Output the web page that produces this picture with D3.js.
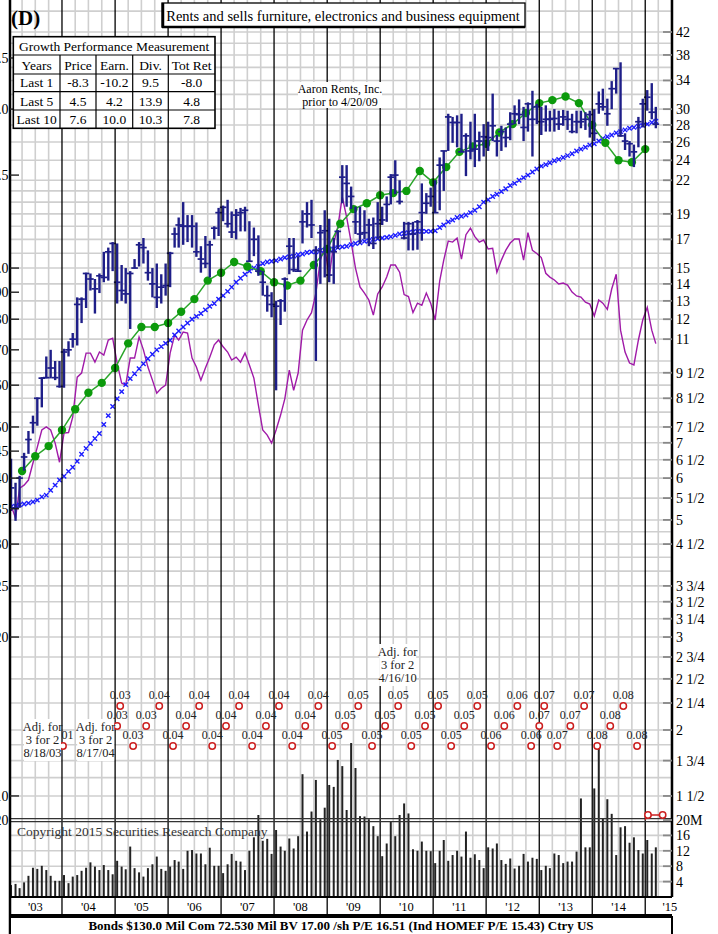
<!DOCTYPE html>
<html><head><meta charset="utf-8">
<script src="https://cdn.jsdelivr.net/npm/d3@7/dist/d3.min.js"></script>
<style>body{margin:0;background:#fff}svg{display:block}</style>
</head><body>
<svg id="c" width="718" height="934"></svg>
<script>
// ---------------- DATA ----------------
const firstMonth = "2003-01", lastMonth = "2015-03";
const high = [6.53,5.88,6.06,6.70,7.37,7.88,8.53,9.32,10.2,10.5,10.0,10.0,
10.55,10.9,11.3,13.2,13.2,14.7,14.65,14.3,14.65,16.1,16.4,16.8,
16.7,15.2,15.0,14.8,15.6,16.8,17.1,16.2,15.0,15.3,14.6,15.3,
16.1,17.9,18.7,20.0,18.9,18.9,18.3,16.5,17.25,16.9,18.0,19.5,
19.7,20.2,19.2,19.4,19.5,19.6,18.4,17.9,17.3,14.8,13.9,13.5,
13.0,13.1,14.4,17.1,17.1,15.8,19.3,20.0,20.2,16.5,18.1,19.3,
18.6,17.1,17.7,23.5,23.5,21.4,19.6,19.6,19.3,18.6,18.7,20.0,
19.6,20.5,22.6,24.0,22.0,18.35,18.35,18.35,18.5,21.7,20.8,21.3,
22.0,24.3,25.0,29.4,29.0,29.2,29.4,27.0,28.4,29.4,27.2,28.1,
28.4,32.1,26.8,27.9,27.7,29.6,30.5,31.3,30.3,30.9,32.5,30.7,
30.3,30.5,29.8,30.0,29.8,29.9,29.8,29.4,29.8,29.8,29.6,29.8,
30.0,32.4,32.8,31.4,33.9,35.9,36.8,27.0,26.1,25.7,29.0,31.4,
32.6,33.6,30.3];
const low = [5.20,4.98,5.27,6.20,6.67,7.29,7.54,8.17,9.27,9.27,9.2,8.9,
8.9,10.2,10.6,10.7,11.8,12.6,13.6,12.3,13.45,14.1,14.2,14.8,
12.85,13.0,12.85,11.5,15.0,15.1,15.3,14.2,13.2,12.6,12.85,13.3,
13.8,16.4,16.4,16.6,16.8,16.4,15.75,14.7,15.0,14.4,17.0,17.25,
18.4,17.9,17.1,17.0,17.6,17.6,15.4,15.8,14.5,13.3,12.4,12.1,
8.8,11.7,12.4,14.6,14.75,14.8,16.7,17.9,17.1,10.0,14.0,14.4,
14.1,14.0,16.3,19.9,19.6,19.4,17.4,16.7,17.0,16.5,16.3,17.0,
18.1,18.35,19.8,20.7,19.8,17.0,16.2,16.2,16.25,16.9,19.0,19.6,
19.1,19.3,21.0,25.0,25.9,25.4,24.9,22.4,24.1,23.3,23.9,24.4,
25.0,26.1,24.4,25.0,25.4,26.2,28.1,28.1,26.1,27.2,24.4,28.1,
26.8,27.2,27.2,27.2,27.4,27.9,27.4,27.0,27.0,27.6,27.4,26.5,
26.1,29.4,29.8,27.9,30.0,32.1,26.6,25.1,24.4,23.3,25.4,27.7,
29.8,28.7,27.6];
const close = [5.75,5.27,6.0,6.58,7.10,7.64,8.50,9.28,9.3,9.7,9.3,8.95,
10.4,10.5,11.0,12.8,13.1,14.65,14.3,13.7,14.5,14.4,16.1,16.7,
14.1,13.6,13.4,14.65,15.0,16.6,16.4,14.7,14.0,13.2,13.8,13.9,
16.0,17.4,18.1,18.0,18.0,18.0,16.1,15.6,15.3,16.6,17.85,19.1,
19.55,18.2,17.55,18.9,19.1,19.3,15.45,17.0,14.8,14.1,13.3,12.8,
12.7,13.0,14.3,16.5,14.9,14.8,18.35,19.0,18.1,16.2,17.5,17.65,
14.55,16.1,17.6,22.3,21.7,20.5,18.35,17.4,17.5,18.1,16.7,18.2,
18.5,19.8,22.3,22.5,20.05,17.1,18.2,17.4,18.35,19.1,19.9,20.5,
19.1,23.5,25.0,29.0,28.3,28.3,24.9,26.7,25.0,25.2,26.1,26.6,
26.5,27.9,26.1,27.2,26.5,28.1,29.4,29.3,27.7,30.7,28.7,30.3,
28.4,28.7,28.7,28.8,28.1,29.0,28.7,27.2,28.4,28.4,28.7,29.3,
27.0,30.7,30.3,29.4,32.8,35.8,26.7,26.1,25.8,24.9,28.4,30.7,
31.6,29.6,28.1];
const movingAvg = [5.29,5.31,5.34,5.36,5.38,5.41,5.45,5.53,5.57,5.69,5.82,5.95,
6.05,6.18,6.29,6.46,6.66,6.83,6.98,7.13,7.29,7.58,7.88,8.20,
8.48,8.75,9.02,9.26,9.46,9.67,9.88,10.1,10.3,10.5,10.65,10.8,
10.95,11.2,11.4,11.6,11.8,12.0,12.15,12.3,12.5,12.7,12.85,13.1,
13.3,13.55,13.8,14.1,14.35,14.6,14.8,15.0,15.1,15.3,15.4,15.45,
15.5,15.6,15.7,15.75,15.8,15.9,15.95,16.05,16.1,16.1,16.2,16.2,
16.25,16.3,16.4,16.45,16.5,16.6,16.7,16.75,16.85,16.9,17.0,17.05,
17.1,17.15,17.2,17.3,17.4,17.45,17.5,17.55,17.6,17.6,17.6,17.6,
17.65,17.9,18.1,18.35,18.5,18.7,18.8,18.9,19.1,19.3,19.6,20.0,
20.2,20.5,20.7,20.95,21.2,21.5,21.7,22.0,22.25,22.5,22.8,23.1,
23.4,23.55,23.75,23.95,24.1,24.3,24.5,24.7,25.0,25.2,25.4,25.65,
25.8,26.1,26.4,26.6,26.8,27.05,27.2,27.4,27.6,27.7,27.85,27.95,
28.1,28.3,28.45];
const relStrength = [5.33,5.04,5.74,5.82,5.95,6.41,6.87,7.40,7.50,7.40,6.99,6.43,
7.30,7.32,7.83,9.32,9.49,10.35,10.35,9.95,10.4,10.26,10.96,11.05,
9.91,9.08,9.0,10.13,10.13,11.1,10.5,9.74,9.2,8.69,8.88,9.0,
10.35,11.2,10.96,11.35,11.3,10.13,9.74,9.2,9.70,10.17,10.73,10.96,
10.64,10.4,10.04,10.17,9.95,10.35,9.83,9.28,8.25,7.40,7.24,6.99,
7.40,7.90,8.48,9.61,8.80,9.49,11.44,11.96,12.35,13.45,15.53,16.44,
14.42,16.73,17.94,20.45,18.74,16.8,15.0,13.81,13.45,13.05,12.22,13.4,
13.81,14.42,15.2,15.2,14.73,13.36,13.25,12.35,12.87,12.75,13.45,12.87,
11.96,14.17,15.53,16.88,16.8,17.1,15.6,17.35,17.86,17.2,16.8,16.95,
16.3,16.35,14.73,15.53,16.2,16.73,17.03,17.03,15.53,17.5,16.2,15.98,
15.7,14.66,14.42,14.24,13.99,14.05,13.93,13.51,13.28,13.22,12.93,12.82,
12.17,13.05,12.87,12.53,13.69,14.6,11.44,10.4,9.91,9.83,10.96,11.96,
12.64,11.44,10.79];
const volumeM = [3.1,3.4,2.3,3.8,5.5,7.6,7.3,8.1,7.0,5.5,4.2,4.2,
5.7,3.6,5.3,5.7,6.8,7.6,9.0,7.9,7.0,8.3,7.0,5.9,
9.4,7.9,7.2,13.1,7.5,6.4,5.3,7.5,8.5,10.5,7.3,6.8,
7.9,9.6,9.2,7.3,12.0,12.2,11.3,11.3,8.5,12.8,8.1,8.1,
6.2,8.5,11.2,9.4,9.2,7.0,12.0,15.5,21.3,14.6,15.1,11.2,
17.4,13.1,12.0,15.2,12.6,15.8,31.9,17.0,22.2,30.4,20.2,23.2,
29.1,28.6,35.6,34.0,22.6,40.0,33.5,21.0,20.9,20.2,18.4,15.8,
10.6,13.9,19.6,15.8,21.3,24.3,21.7,12.4,12.0,14.4,12.0,11.9,
8.8,12.0,14.8,9.4,10.9,12.0,10.5,17.0,10.2,11.1,9.6,7.5,
12.9,12.6,13.9,9.6,8.6,10.0,7.4,8.1,11.2,9.2,10.2,9.9,
7.0,8.1,7.5,11.3,10.9,8.8,9.2,9.2,11.8,25.6,12.9,12.9,
28.2,39.2,20.4,25.4,21.6,10.9,18.1,18.4,14.1,15.5,12.2,11.3,
14.8,11.3,12.9];
// earnings line (price-scale equivalent, quarterly, Q1 2003 .. Q4 2014)
const earningsLine = [6.19,6.60,6.90,7.40,8.10,8.71,9.09,9.70,10.8,11.6,11.6,11.8,
12.4,13.1,14.2,14.7,15.4,15.1,14.8,14.1,13.9,14.2,15.2,16.3,
18.2,19.4,19.9,20.6,20.8,21.0,22.9,21.8,23.3,24.9,25.5,25.8,
27.1,28.1,29.5,30.8,31.2,31.7,30.8,28.0,25.9,24.0,23.8,25.2];
const divDates = ["2004-01-08","2005-01-15","2005-02-05","2005-05-05","2005-08-03","2005-11-01",
"2006-02-04","2006-05-05","2006-08-03","2006-11-01","2007-02-04","2007-05-05","2007-08-03","2007-11-06",
"2008-02-04","2008-05-05","2008-08-03","2008-11-01","2009-02-04","2009-05-05","2009-08-03","2009-11-06",
"2010-02-04","2010-05-05","2010-08-03","2010-11-06","2011-02-04","2011-05-05","2011-08-03","2011-11-01",
"2012-02-04","2012-05-05","2012-08-03","2012-11-06","2013-01-01","2013-02-04","2013-05-05","2013-08-03",
"2013-11-06","2014-02-04","2014-05-05","2014-08-03","2014-11-06"];
const divAmounts = [0.01,0.03,0.03,0.03,0.03,0.04,0.04,0.04,0.04,0.04,0.04,0.04,0.04,0.04,
0.04,0.04,0.04,0.04,0.05,0.05,0.05,0.05,0.05,0.05,0.05,0.05,0.05,0.05,0.05,0.05,
0.06,0.06,0.06,0.06,0.07,0.07,0.07,0.07,0.07,0.08,0.08,0.08,0.08];
const divTier = [3,2,1,3,2,1,3,2,1,3,2,1,3,2,1,3,2,1,3,2,1,3,2,1,3,2,1,3,2,1,3,2,1,3,2,1,3,2,1,3,2,1,3];
const lastDivDates = ["2015-01-20","2015-05-01"];
const splitNotes = [{date:"2003-08-20",lines:["Adj. for","3 for 2","8/18/03"],row:"low"},
                    {date:"2004-08-20",lines:["Adj. for","3 for 2","8/17/04"],row:"low"},
                    {date:"2010-05-01",lines:["Adj. for","3 for 2","4/16/10"],row:"high"}];
const yearLabels = ["'03","'04","'05","'06","'07","'08","'09","'10","'11","'12","'13","'14","'15"];
const priceTicks = [42,38,34,30,28,26,24,22,19,17,15,14,13,12,11,9.5,8.5,7.5,7,6.5,6,5.5,5,4.5,3.75,3.5,3.25,3,2.75,2.5,2.25,2,1.75,1.5];
const priceTickLabels = ["42","38","34","30","28","26","24","22","19","17","15","14","13","12","11","9 1/2","8 1/2","7 1/2","7","6 1/2","6","5 1/2","5","4 1/2","3 3/4","3 1/2","3 1/4","3","2 3/4","2 1/2","2 1/4","2","1 3/4","1 1/2"];
const priceGrid = [46,42,40,38,36,34,32,30,28,26,24,22,21,20,19,18,17,16,15,14,13,12,11,10,9.5,9,8.5,8,7.5,7,6.5,6,5.5,5,4.75,4.5,4.25,4,3.75,3.5,3.25,3,2.75,2.5,2.25,2,1.875,1.75,1.625,1.5];
const earnTicks = [37.5,30,22.5,15,13.5,12,10.5,9,7.5,6.75,6,5.25,4.5,3.75,3,1.5];
const earnTickLabels = ["2.5","2.0","1.5","1.0",".90",".80",".70",".60",".50",".45",".40",".35",".30",".25",".20",".10"];
const volTicks = [20,16,12,8,4];
const volTickLabels = ["20M","16","12","8","4"];
const growthHeader = ["Years","Price","Earn.","Div.","Tot Ret"];
const growthRows = [["Last 1","-8.3","-10.2","9.5","-8.0"],["Last 5","4.5","4.2","13.9","4.8"],["Last 10","7.6","10.0","10.3","7.8"]];

// ---------------- SCALES ----------------
const svg = d3.select("#c");
const FONT = "'Liberation Serif','Times New Roman',serif";
const L = 10, R = 672, VB = 897;
const x = d3.scaleTime().domain([new Date(2003,0,1), new Date(2015,6,1)]).range([9, 671.5]);
const y = d3.scaleLog().domain([42,2]).range([32,730]);
const yv = d3.scaleLinear().domain([0,20]).range([VB,820]);
const parse = d3.timeParse("%Y-%m-%d");
const pm = d3.timeParse("%Y-%m");
const months = d3.timeMonth.range(pm(firstMonth), d3.timeMonth.offset(pm(lastMonth),1)).map(d=>d3.timeDay.offset(d,14));
const quarters = d3.timeMonth.every(3).range(new Date(2003,3,1), new Date(2015,0,2));

svg.append("rect").attr("width",718).attr("height",934).attr("fill","#fff");
svg.append("defs").append("clipPath").attr("id","plot").append("rect").attr("x",L).attr("y",0).attr("width",R-L).attr("height",VB);
const g = svg.append("g").attr("clip-path","url(#plot)");

// grid
g.selectAll(".hg").data(priceGrid).join("line").attr("x1",L).attr("x2",R)
 .attr("y1",d=>y(d)).attr("y2",d=>y(d)).attr("stroke","#cfcfcf").attr("stroke-width",1.6);
g.selectAll(".vg").data([16,12,8,4]).join("line").attr("x1",L).attr("x2",R)
 .attr("y1",d=>yv(d)).attr("y2",d=>yv(d)).attr("stroke","#cfcfcf").attr("stroke-width",1.6);
const qLines = d3.timeMonth.every(3).range(new Date(2003,0,1), new Date(2015,6,2)).filter(d=>d.getMonth()!==0);
g.selectAll(".qg").data(qLines).join("line").attr("x1",d=>x(d)).attr("x2",d=>x(d))
 .attr("y1",0).attr("y2",VB).attr("stroke","#cfcfcf").attr("stroke-width",1.6);
const yLines = d3.timeYear.range(new Date(2004,0,1), new Date(2015,0,2));
svg.selectAll(".yg").data(yLines).join("line").attr("x1",d=>x(d)).attr("x2",d=>x(d))
 .attr("y1",0).attr("y2",915).attr("stroke","#000").attr("stroke-width",1.3);

// volume
g.selectAll(".vol").data(volumeM).join("line")
 .attr("x1",(d,i)=>x(months[i])).attr("x2",(d,i)=>x(months[i]))
 .attr("y1",VB).attr("y2",d=>yv(d)).attr("stroke","#222").attr("stroke-width",2);
[818.6,821.6].forEach(v=>svg.append("line").attr("x1",L).attr("x2",R).attr("y1",v).attr("y2",v).attr("stroke","#333").attr("stroke-width",1.3));

// relative strength
g.append("path").datum(relStrength).attr("fill","none").attr("stroke","#a01aa8").attr("stroke-width",1.4)
 .attr("d",d3.line().x((d,i)=>x(months[i])).y(d=>y(d)));

// moving average x markers
const ma = g.append("g").attr("stroke","#1b1bff").attr("stroke-width",1.4);
movingAvg.forEach((v,i)=>{const cx=x(months[i]),cy=y(v);
  ma.append("path").attr("d",`M${cx-2.2},${cy-2.2}L${cx+2.2},${cy+2.2}M${cx-2.2},${cy+2.2}L${cx+2.2},${cy-2.2}`);});

// earnings line
g.append("path").datum(earningsLine).attr("fill","none").attr("stroke","#2aa52a").attr("stroke-width",1.5)
 .attr("d",d3.line().x((d,i)=>x(quarters[i])).y(d=>y(d)));
g.selectAll(".ed").data(earningsLine).join("circle").attr("cx",(d,i)=>x(quarters[i])).attr("cy",d=>y(d))
 .attr("r",4.2).attr("fill","#0c9a0c");

// price bars
const pb = g.append("g").attr("stroke","#1e1e88");
high.forEach((h,i)=>{const cx=x(months[i]);
  pb.append("line").attr("x1",cx).attr("x2",cx).attr("y1",y(h)).attr("y2",y(low[i])).attr("stroke-width",2.4);
  pb.append("line").attr("x1",cx-3.3).attr("x2",cx+3.3).attr("y1",y(close[i])).attr("y2",y(close[i])).attr("stroke-width",1.7);});

// dividends
const tierY = d3.scaleOrdinal().domain([1,2,3]).range([706,726,746]);
const dv = svg.append("g");
divDates.forEach((s,i)=>{const cx=x(parse(s)),cy=tierY(divTier[i]);
  dv.append("text").attr("x",cx).attr("y",cy-7).attr("text-anchor","middle").attr("font-family",FONT)
    .attr("font-size",12).attr("fill","#222").text(divAmounts[i].toFixed(2));
  dv.append("circle").attr("cx",cx).attr("cy",cy).attr("r",3.2).attr("fill","#fff").attr("stroke","#cc1f1f").attr("stroke-width",1.5);});
const lastDiv = lastDivDates.map(parse);
dv.append("path").attr("d",`M${x(lastDiv[0])-3},820L${x(lastDiv[0])},815L${x(lastDiv[1])},815`).attr("stroke","#cc1f1f").attr("fill","none").attr("stroke-width",1.3);
lastDiv.forEach(d=>dv.append("circle").attr("cx",x(d)).attr("cy",815).attr("r",3.2).attr("fill","#fff").attr("stroke","#cc1f1f").attr("stroke-width",1.5));

// split notes
splitNotes.forEach(n=>{const cx=x(parse(n.date)); const base = n.row==="low"?731:656;
  svg.append("rect").attr("x",cx-18.5).attr("y",base-12).attr("width",37).attr("height",42).attr("fill","#fff");
  n.lines.forEach((t,j)=>svg.append("text").attr("x",cx).attr("y",base+j*13).attr("text-anchor","middle")
    .attr("font-family",FONT).attr("font-size",12.5).attr("fill","#222").text(t));});

svg.append("rect").attr("x",298).attr("y",82).attr("width",84).attr("height",26).attr("fill","#fff");
svg.append("text").attr("x",340).attr("y",93).attr("text-anchor","middle").attr("font-family",FONT).attr("font-size",12).text("Aaron Rents, Inc.");
svg.append("text").attr("x",340).attr("y",106).attr("text-anchor","middle").attr("font-family",FONT).attr("font-size",12).text("prior to 4/20/09");

svg.append("text").attr("x",17).attr("y",836).attr("font-family",FONT).attr("font-size",13.5).attr("fill","#333").text("Copyright 2015 Securities Research Company");

// borders
svg.append("line").attr("x1",L).attr("x2",L).attr("y1",0).attr("y2",934).attr("stroke","#000").attr("stroke-width",2.5);
svg.append("line").attr("x1",R).attr("x2",R).attr("y1",0).attr("y2",VB).attr("stroke","#000").attr("stroke-width",2.5);
svg.append("line").attr("x1",L).attr("x2",R).attr("y1",VB).attr("y2",VB).attr("stroke","#000").attr("stroke-width",2.2);
svg.append("line").attr("x1",L).attr("x2",R).attr("y1",915).attr("y2",915).attr("stroke","#000").attr("stroke-width",2.2);

// right axis
const ra = svg.append("g");
priceTicks.forEach((v,i)=>{ra.append("line").attr("x1",663).attr("x2",R).attr("y1",y(v)).attr("y2",y(v)).attr("stroke","#888").attr("stroke-width",1.8);
  ra.append("text").attr("x",676).attr("y",y(v)+5).attr("font-family",FONT).attr("font-size",14).text(priceTickLabels[i]);});
volTicks.forEach((v,i)=>{ra.append("line").attr("x1",663).attr("x2",R).attr("y1",yv(v)).attr("y2",yv(v)).attr("stroke","#888").attr("stroke-width",1.8);
  ra.append("text").attr("x",676).attr("y",yv(v)+5).attr("font-family",FONT).attr("font-size",14).text(volTickLabels[i]);});
// left (cut-off) earnings scale
earnTicks.forEach((v,i)=>{ra.append("line").attr("x1",L).attr("x2",19).attr("y1",y(v)).attr("y2",y(v)).attr("stroke","#222").attr("stroke-width",1.4);
  ra.append("text").attr("x",8.5).attr("y",y(v)+5).attr("text-anchor","end").attr("font-family",FONT).attr("font-size",14).text(earnTickLabels[i]);});
ra.append("text").attr("x",8.5).attr("y",yv(20)+5).attr("text-anchor","end").attr("font-family",FONT).attr("font-size",14).text("20");

// year labels
yearLabels.forEach((t,i)=>{const d=new Date(2003+i,6,1);
  svg.append("text").attr("x",Math.min(x(d),670)).attr("y",911).attr("text-anchor","middle").attr("font-family",FONT).attr("font-size",12.5).text(t);});

// bottom info box
svg.append("rect").attr("x",L).attr("y",917).attr("width",R-L).attr("height",20).attr("fill","#fff").attr("stroke","#000").attr("stroke-width",2);
svg.append("text").attr("x",341).attr("y",930).attr("text-anchor","middle").attr("font-family",FONT).attr("font-weight","bold").attr("font-size",13)
 .text("Bonds  $130.0 Mil Com 72.530 Mil BV 17.00 /sh  P/E 16.51 (Ind HOMEF P/E 15.43) Ctry US");

// header
svg.append("text").attr("x",11).attr("y",25).attr("font-family",FONT).attr("font-weight","bold").attr("font-size",21).text("(D)");
svg.append("rect").attr("x",162).attr("y",3).attr("width",363).attr("height",24).attr("fill","#fff").attr("stroke","#000").attr("stroke-width",1.3);
svg.append("line").attr("x1",163).attr("x2",163).attr("y1",3).attr("y2",28).attr("stroke","#000").attr("stroke-width",2.5);
svg.append("line").attr("x1",162).attr("x2",525).attr("y1",27).attr("y2",27).attr("stroke","#000").attr("stroke-width",2.5);
svg.append("text").attr("x",343).attr("y",21).attr("text-anchor","middle").attr("font-family",FONT).attr("font-size",14.5).text("Rents and sells furniture, electronics and business equipment");

// growth table
const cols=[13.3,60,96,132.7,168.3,215], rows=[36.7,55,74,91.7,110,128.3];
const tb = svg.append("g");
tb.append("rect").attr("x",cols[0]).attr("y",rows[0]).attr("width",cols[5]-cols[0]).attr("height",rows[5]-rows[0]).attr("fill","#fff").attr("stroke","#000").attr("stroke-width",1.6);
rows.slice(1,5).forEach(r=>tb.append("line").attr("x1",cols[0]).attr("x2",cols[5]).attr("y1",r).attr("y2",r).attr("stroke","#000").attr("stroke-width",1.2));
cols.slice(1,5).forEach(c=>tb.append("line").attr("x1",c).attr("x2",c).attr("y1",rows[1]).attr("y2",rows[5]).attr("stroke","#000").attr("stroke-width",1.2));
tb.append("text").attr("x",(cols[0]+cols[5])/2).attr("y",rows[1]-4.5).attr("text-anchor","middle").attr("font-family",FONT).attr("font-size",13.5).text("Growth Performance Measurement");
[growthHeader,...growthRows].forEach((row,ri)=>row.forEach((t,ci)=>
  tb.append("text").attr("x",(cols[ci]+cols[ci+1])/2).attr("y",rows[ri+2]-4.5).attr("text-anchor","middle")
   .attr("font-family",FONT).attr("font-size",13.5).text(t)));
</script>
</body></html>
